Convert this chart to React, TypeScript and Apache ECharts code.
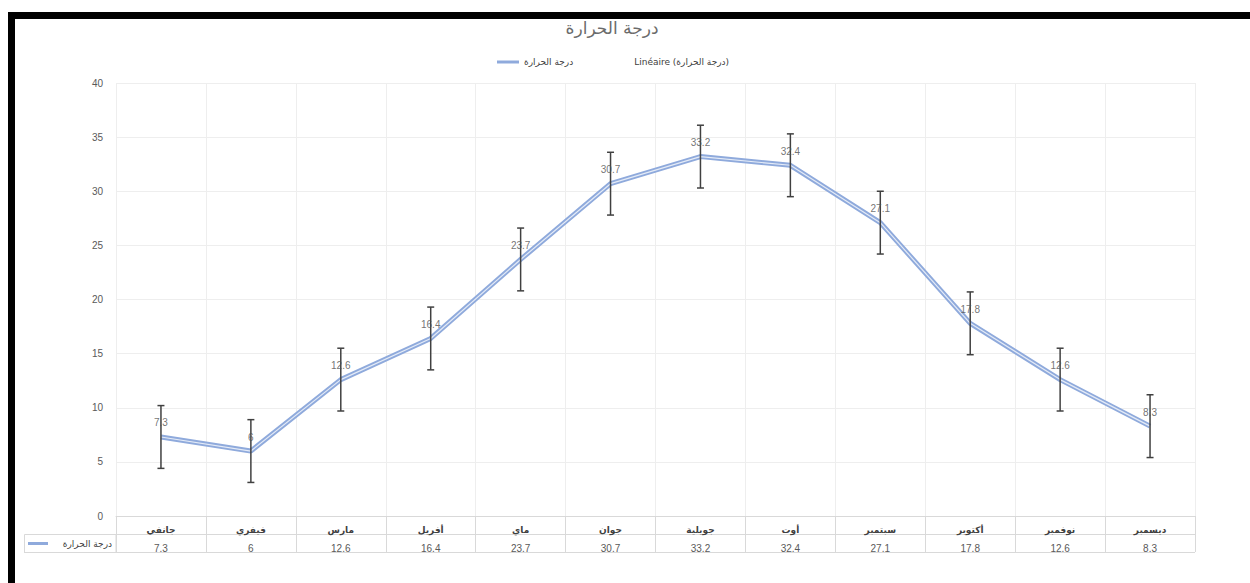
import React, { useEffect, useRef } from "react";
import * as echarts from "echarts";

const months = ["جانفي", "فيفري", "مارس", "أفريل", "ماي", "جوان", "جويلية", "أوت", "سبتمبر", "أكتوبر", "نوفمبر", "ديسمبر"];
const temps = [7.3, 6, 12.6, 16.4, 23.7, 30.7, 33.2, 32.4, 27.1, 17.8, 12.6, 8.3];
const errors = [2.9, 2.9, 2.9, 2.9, 2.9, 2.9, 2.9, 2.9, 2.9, 2.9, 2.9, 2.9];
const yTicks = { min: 0, max: 40, interval: 5 };
const titleText = "درجة الحرارة";
const seriesName = "درجة الحرارة";
const trendName = "Linéaire (درجة الحرارة)";

const FONT = "'Liberation Sans', 'DejaVu Sans', sans-serif";
const AR = "'DejaVu Sans', sans-serif";

export default function App() {
  const ref = useRef<HTMLDivElement>(null);
  useEffect(() => {
    const chart = echarts.init(ref.current!, null, { renderer: "svg" });
    const G = { left: 116, right: 55, top: 83, bottom: 67 };
    const tableLine = "#d9d9d9";
    const option: any = {
      animation: false,
      backgroundColor: "#fff",
      title: {
        text: titleText,
        left: 607,
        top: 14,
        textAlign: "center",
        textStyle: { fontFamily: AR, fontSize: 17, fontWeight: "normal", color: "#6b6b6b" },
      },
      legend: {
        top: 52,
        left: 492,
        itemGap: 34,
        itemWidth: 22,
        itemHeight: 10,
        textStyle: { fontFamily: AR, fontSize: 9, color: "#404040" },
        data: [
          { name: seriesName, icon: "path://M0,3.5L22,3.5L22,6.5L0,6.5Z", itemStyle: { color: "#8FAADC" } },
          { name: trendName, icon: "rect", itemStyle: { opacity: 0 } },
        ],
      },
      grid: { ...G, containLabel: false },
      xAxis: {
        type: "category",
        data: months,
        boundaryGap: true,
        axisLine: { show: true, lineStyle: { color: tableLine, width: 1 } },
        axisTick: { show: true, interval: 0, length: 36, lineStyle: { color: tableLine } },
        splitLine: { show: true, interval: 0, lineStyle: { color: "#eeeeee" } },
        axisLabel: {
          interval: 0,
          margin: 5,
          formatter: (v: string, i: number) => `{c|${v}}\n{v|${temps[i]}}`,
          rich: {
            c: { fontFamily: AR, fontSize: 9, fontWeight: "bold", color: "#404040", lineHeight: 18, height: 18 },
            v: { fontFamily: FONT, fontSize: 10, color: "#595959", lineHeight: 18, height: 18 },
          },
        },
      },
      yAxis: {
        type: "value",
        ...yTicks,
        axisLine: { show: false },
        axisTick: { show: false },
        splitLine: { show: true, lineStyle: { color: "#eeeeee" } },
        axisLabel: { fontFamily: FONT, fontSize: 10, color: "#595959", margin: 13 },
      },
      graphic: [
        { type: "rect", shape: { x: 8, y: 12, width: 1250, height: 7 }, style: { fill: "#000" }, silent: true },
        { type: "rect", shape: { x: 8, y: 12, width: 7, height: 583 }, style: { fill: "#000" }, silent: true },
        { type: "line", shape: { x1: 116, y1: 534.5, x2: 1195, y2: 534.5 }, style: { stroke: tableLine, lineWidth: 1 }, silent: true },
        { type: "line", shape: { x1: 24, y1: 552.5, x2: 1195, y2: 552.5 }, style: { stroke: tableLine, lineWidth: 1 }, silent: true },
        { type: "rect", shape: { x: 24.5, y: 534.5, width: 91.5, height: 18 }, style: { fill: "none", stroke: tableLine, lineWidth: 1 }, silent: true },
        { type: "line", shape: { x1: 28, y1: 543.5, x2: 48, y2: 543.5 }, style: { stroke: "#8FAADC", lineWidth: 3 }, silent: true },
        {
          type: "text",
          x: 112,
          y: 543.5,
          style: { text: seriesName, fontFamily: AR, fontSize: 9, fill: "#404040", align: "right", verticalAlign: "middle" },
          silent: true,
        },
      ],
      series: [
        {
          name: seriesName,
          type: "line",
          data: temps,
          symbol: "none",
          z: 2,
          lineStyle: { color: "#8FAADC", width: 5 },
          itemStyle: { color: "#8FAADC" },
        },
        {
          name: "inner",
          type: "line",
          data: temps,
          symbol: "none",
          z: 3,
          silent: true,
          lineStyle: { color: "#e4ebf7", width: 1.2 },
        },
        {
          name: trendName,
          type: "line",
          data: [],
          symbol: "none",
        },
        {
          name: "err",
          type: "custom",
          z: 4,
          silent: true,
          data: temps.map((t, i) => [i, t, errors[i]]),
          renderItem: (params: any, api: any) => {
            const i = api.value(0);
            const v = api.value(1);
            const e = api.value(2);
            const top = api.coord([i, v + e]);
            const bot = api.coord([i, v - e]);
            const st = { stroke: "#404040", lineWidth: 1.5 };
            return {
              type: "group",
              children: [
                { type: "line", shape: { x1: top[0], y1: top[1], x2: bot[0], y2: bot[1] }, style: st },
                { type: "line", shape: { x1: top[0] - 3.5, y1: top[1], x2: top[0] + 3.5, y2: top[1] }, style: st },
                { type: "line", shape: { x1: bot[0] - 3.5, y1: bot[1], x2: bot[0] + 3.5, y2: bot[1] }, style: st },
              ],
            };
          },
        },
        {
          name: "labels",
          type: "scatter",
          data: temps,
          symbolSize: 0,
          z: 10,
          silent: true,
          label: {
            show: true,
            position: "top",
            distance: 9,
            fontFamily: FONT,
            fontSize: 10,
            color: "#505050",
          },
        },
      ],
    };
    chart.setOption(option);
    return () => chart.dispose();
  }, []);
  return (
    <div
      ref={ref}
      style={{ position: "fixed", left: 0, top: 0, width: 1250, height: 583 }}
    />
  );
}
